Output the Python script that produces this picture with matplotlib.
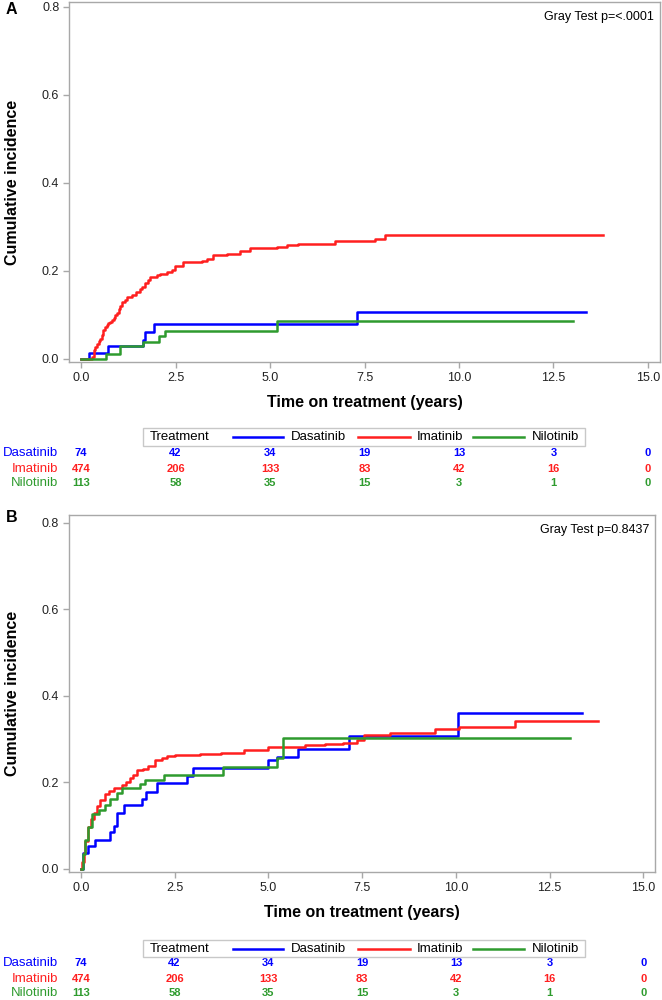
import numpy as np
import matplotlib
matplotlib.use("Agg")
import matplotlib.pyplot as plt
from matplotlib.lines import Line2D
from matplotlib.patches import Rectangle
from matplotlib.transforms import blended_transform_factory

plt.rcParams['font.family'] = ['Liberation Sans', 'DejaVu Sans']

# ---------------- data ----------------
treatments = ["Dasatinib", "Imatinib", "Nilotinib"]
colors = {"Dasatinib": "#0000FF", "Imatinib": "#FF1F1F", "Nilotinib": "#2E9B2E"}

# Panel A
a_das_t = [0, 0.22, 0.72, 1.65, 1.69, 1.94, 7.31, 13.35]
a_das_y = [0, 0.013, 0.030, 0.043, 0.062, 0.080, 0.107, 0.107]

a_ima_t = [0, 0.28, 0.33, 0.38, 0.42, 0.47, 0.51, 0.55, 0.59, 0.64, 0.68, 0.72, 0.77, 0.81,
           0.86, 0.9, 0.95, 1.0, 1.04, 1.08, 1.15, 1.22, 1.35, 1.45, 1.56, 1.62, 1.69, 1.76,
           1.83, 2.0, 2.09, 2.27, 2.4, 2.49, 2.71, 3.2, 3.33, 3.5, 3.86, 4.2, 4.47,
           5.18, 5.44, 5.75, 6.72, 7.78, 8.04, 13.8]
a_ima_y = [0, 0.005, 0.02, 0.028, 0.035, 0.04, 0.045, 0.055, 0.066, 0.072, 0.077, 0.081, 0.085, 0.089,
           0.093, 0.099, 0.105, 0.113, 0.121, 0.13, 0.135, 0.14, 0.146, 0.152, 0.158, 0.164, 0.172, 0.18,
           0.187, 0.19, 0.193, 0.197, 0.203, 0.21, 0.221, 0.223, 0.228, 0.236, 0.239, 0.245, 0.252,
           0.255, 0.259, 0.262, 0.268, 0.273, 0.282, 0.282]

a_nil_t = [0, 0.66, 1.03, 1.65, 2.07, 2.22, 5.19, 13.02]
a_nil_y = [0, 0.011, 0.030, 0.039, 0.052, 0.064, 0.086, 0.086]

# Panel B
b_das_t = [0, 0.05, 0.2, 0.38, 0.78, 0.89, 0.96, 1.14, 1.63, 1.74, 2.03, 2.83, 3.0,
           5.0, 5.23, 5.78, 7.16, 10.05, 13.36]
b_das_y = [0, 0.037, 0.054, 0.068, 0.085, 0.1, 0.129, 0.148, 0.162, 0.179, 0.199, 0.215, 0.233,
           0.252, 0.259, 0.277, 0.308, 0.36, 0.36]

b_ima_t = [0, 0.03, 0.07, 0.12, 0.2, 0.27, 0.34, 0.42, 0.51, 0.64, 0.75, 0.87, 1.09, 1.2,
           1.31, 1.4, 1.49, 1.65, 1.8, 1.98, 2.15, 2.29, 2.5, 3.18, 3.74, 4.34, 5.0, 5.98,
           6.5, 7.0, 7.36, 7.54, 8.25, 9.45, 10.07, 11.58, 13.8]
b_ima_y = [0, 0.015, 0.037, 0.065, 0.098, 0.115, 0.129, 0.145, 0.16, 0.174, 0.18, 0.187, 0.195, 0.2,
           0.21, 0.218, 0.228, 0.232, 0.239, 0.252, 0.256, 0.26, 0.264, 0.266, 0.269, 0.276, 0.282, 0.287,
           0.289, 0.292, 0.299, 0.31, 0.315, 0.323, 0.329, 0.341, 0.341]

b_nil_t = [0, 0.05, 0.1, 0.2, 0.3, 0.47, 0.64, 0.78, 0.96, 1.09, 1.58, 1.71, 2.22, 3.78,
           5.23, 5.39, 13.03]
b_nil_y = [0, 0.035, 0.068, 0.098, 0.128, 0.137, 0.148, 0.162, 0.176, 0.187, 0.197, 0.206, 0.218, 0.236,
           0.256, 0.302, 0.302]

# numbers at risk (same in both panels)
risk_times = [0, 2.5, 5.0, 7.5, 10.0, 12.5, 15.0]
risk_das = [74, 42, 34, 19, 13, 3, 0]
risk_ima = [474, 206, 133, 83, 42, 16, 0]
risk_nil = [113, 58, 35, 15, 3, 1, 0]

x_ticks = [0, 2.5, 5.0, 7.5, 10.0, 12.5, 15.0]
y_ticks = [0.0, 0.2, 0.4, 0.6, 0.8]

W, H = 662, 1000
fig = plt.figure(figsize=(W / 100, H / 100), dpi=100)

def fx(px):
    return px / W

def fy(py):
    return 1 - py / H

GRAY = "#A8A8A8"

def make_panel(rect, xlim, ylim, curves, p_text, letter, letter_y):
    ax = fig.add_axes(rect)
    for name, (t, y) in zip(treatments, curves):
        ax.step(t, y, where="post", color=colors[name], lw=1.8)
    ax.set_xlim(*xlim)
    ax.set_ylim(*ylim)
    ax.set_xticks(x_ticks, [f"{v:.1f}" for v in x_ticks])
    ax.set_yticks(y_ticks, [f"{v:.1f}" for v in y_ticks])
    for s in ax.spines.values():
        s.set_color(GRAY)
        s.set_linewidth(1.0)
    ax.tick_params(length=4, width=1, color=GRAY, labelsize=9, labelcolor="#222222", pad=3)
    ax.set_xlabel("Time on treatment (years)", fontsize=11.5, fontweight="bold")
    ax.set_ylabel("Cumulative incidence", fontsize=11.5, fontweight="bold")
    ax.yaxis.set_label_coords(-0.083, 0.5)
    ax.xaxis.set_label_coords(0.5, -0.092)
    ax.text(0.99, 0.975, p_text, transform=ax.transAxes, ha="right", va="top", fontsize=9)
    fig.text(fx(6), fy(letter_y), letter, fontsize=11.5, fontweight="bold", va="center", ha="left")
    return ax

def draw_legend(top, bottom):
    yc = fy((top + bottom) / 2)
    fig.add_artist(Rectangle((fx(143), fy(bottom)), fx(585) - fx(143), fy(top) - fy(bottom),
                             transform=fig.transFigure, fill=False, edgecolor="#C8C8C8", lw=1))
    fig.text(fx(150), yc, "Treatment", fontsize=9.5, va="center", ha="left")
    segs = [(233, 283, 291), (358, 410, 417), (473, 524, 532)]
    for name, (x0, x1, xt) in zip(treatments, segs):
        fig.add_artist(Line2D([fx(x0), fx(x1)], [yc, yc], transform=fig.transFigure,
                              color=colors[name], lw=1.8))
        fig.text(fx(xt), yc, name, fontsize=9.5, va="center", ha="left")

def draw_risk(ax, rows_y):
    tr = blended_transform_factory(ax.transData, fig.transFigure)
    for name, counts, ry in zip(treatments, [risk_das, risk_ima, risk_nil], rows_y):
        fig.text(fx(58), fy(ry), name, color=colors[name], fontsize=9.5, ha="right", va="center")
        for t, n in zip(risk_times, counts):
            ax.text(t, fy(ry), str(n), transform=tr, color=colors[name], fontsize=8,
                    fontweight="bold", ha="center", va="center", clip_on=False)

ax_a = make_panel([fx(69), fy(362), fx(660) - fx(69), fy(2) - fy(362)],
                  (-0.32, 15.32), (-0.007, 0.811),
                  [(a_das_t, a_das_y), (a_ima_t, a_ima_y), (a_nil_t, a_nil_y)],
                  "Gray Test p=<.0001", "A", 10)
draw_legend(428, 446)
draw_risk(ax_a, [453.5, 469, 483.5])

ax_b = make_panel([fx(68.5), fy(872), fx(655) - fx(68.5), fy(515) - fy(872)],
                  (-0.33, 15.31), (-0.007, 0.818),
                  [(b_das_t, b_das_y), (b_ima_t, b_ima_y), (b_nil_t, b_nil_y)],
                  "Gray Test p=0.8437", "B", 517)
draw_legend(940, 957)
draw_risk(ax_b, [963.5, 979, 993.5])

fig.savefig("out.png", dpi=100)
